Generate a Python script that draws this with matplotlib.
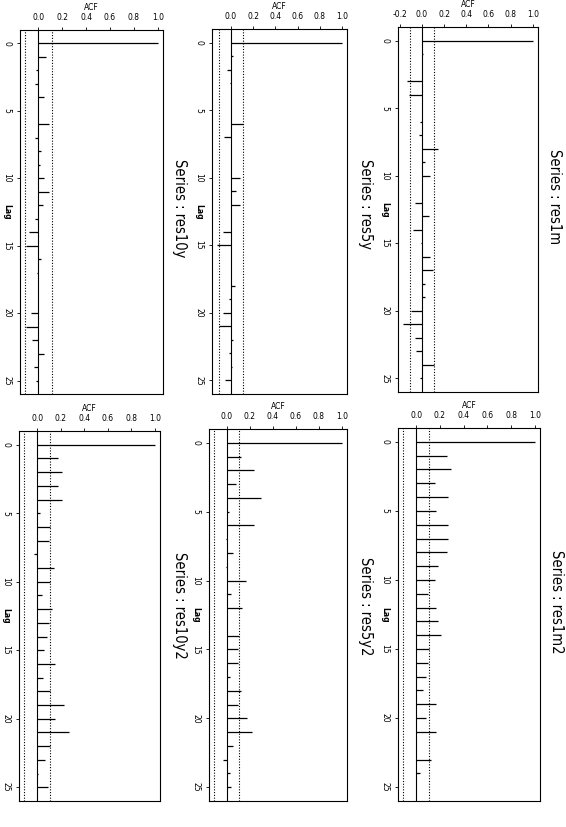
import numpy as np
import matplotlib
matplotlib.use("Agg")
import matplotlib.pyplot as plt

lags = list(range(26))

res10y = [1.0, 0.06, -0.02, -0.03, 0.05, 0.0, 0.09, -0.03, 0.02, 0.01,
          0.045, 0.09, 0.04, -0.03, -0.08, -0.10, 0.02, -0.01, 0.0, 0.0,
          -0.06, -0.10, -0.05, 0.05, -0.04, -0.02]
res5y = [1.0, 0.02, -0.035, -0.01, 0.0, 0.0, 0.11, -0.065, 0.0, 0.0,
         0.085, 0.05, 0.085, 0.0, -0.075, -0.125, 0.0, 0.0, 0.04, -0.02,
         -0.07, -0.11, 0.015, -0.02, 0.01, -0.05]
res1m = [1.0, 0.01, 0.0, -0.135, -0.115, 0.0, -0.015, -0.03, 0.14, 0.03,
         0.07, 0.0, -0.065, 0.065, -0.085, -0.01, 0.07, 0.10, 0.03, 0.03,
         -0.10, -0.17, -0.065, -0.055, 0.11, -0.02]
res10y2 = [1.0, 0.175, 0.21, 0.18, 0.21, 0.02, 0.105, 0.10, -0.03, 0.14,
           0.11, 0.04, 0.13, 0.10, 0.085, 0.055, 0.15, 0.05, 0.11, 0.225,
           0.15, 0.27, 0.11, 0.07, 0.005, 0.09]
res5y2 = [1.0, 0.125, 0.235, 0.08, 0.30, 0.02, 0.24, -0.01, 0.05, -0.01,
          0.17, 0.035, 0.13, 0.0, 0.11, 0.095, 0.10, 0.03, 0.12, 0.10,
          0.18, 0.22, 0.05, -0.03, 0.03, 0.04]
res1m2 = [1.0, 0.26, 0.29, 0.16, 0.27, 0.17, 0.27, 0.27, 0.26, 0.18,
          0.16, 0.10, 0.165, 0.18, 0.21, 0.105, 0.10, 0.085, 0.055, 0.165,
          0.085, 0.165, 0.0, 0.12, 0.035, 0.0]

names = ["res10y", "res5y", "res1m", "res10y2", "res5y2", "res1m2"]
series = [res10y, res5y, res1m, res10y2, res5y2, res1m2]
conf = [0.11, 0.11, 0.11, 0.11, 0.11, 0.11]
lag_ticks = [0, 5, 10, 15, 20, 25]
acf_ticks = [-0.2, 0.0, 0.2, 0.4, 0.6, 0.8, 1.0]

W, H = 566, 827
# panel frames in pixels: left, top, right, bottom
boxes = [(20, 30, 163, 394), (212, 29, 347, 394), (398, 27, 538, 392),
         (19, 431, 160, 801), (209, 429, 347, 801), (398, 428, 540, 801)]
# centre of the rotated series titles
title_pos = [(180, 208), (365, 204), (555, 197),
             (180, 605), (365, 606), (556, 602)]

plt.rcParams["font.family"] = ["DejaVu Sans"]
fig = plt.figure(figsize=(W / 100, H / 100), dpi=100)

for name, acf, c, box, tp in zip(names, series, conf, boxes, title_pos):
    l, t, r, b = box
    ax = fig.add_axes([l / W, 1 - b / H, (r - l) / W, (b - t) / H])

    lo = min(min(acf), -c)
    hi = max(max(acf), c)
    pad = 0.04 * (hi - lo)
    ax.set_xlim(lo - pad, hi + pad)
    ax.set_ylim(26, -1)

    ax.hlines(lags, 0, acf, color="black", lw=0.9)
    ax.axvline(0, color="black", lw=0.8)
    for v in (-c, c):
        ax.axvline(v, color="black", lw=0.8, ls=(0, (1, 1.5)))

    ticks = [v for v in acf_ticks if lo - pad <= v <= hi + pad]
    ax.xaxis.tick_top()
    ax.set_xticks(ticks)
    ax.set_xticklabels([f"{v:.1f}" for v in ticks])
    ax.xaxis.set_label_position("top")
    ax.set_xlabel("ACF", fontsize=5.5, labelpad=2)

    ax.set_yticks(lag_ticks)
    ax.set_yticklabels([str(v) for v in lag_ticks], rotation=-90, va="center")
    ax.tick_params(labelsize=5.5, length=2, width=0.6, pad=4)
    ax.annotate("Lag", xy=(0, 12.5), xycoords=("axes fraction", "data"),
                xytext=(-9.5, 0), textcoords="offset points", rotation=-90,
                ha="center", va="center", fontsize=5.5, fontweight="bold")

    for sp in ax.spines.values():
        sp.set_linewidth(0.8)

    fig.text(tp[0] / W, 1 - tp[1] / H, "Series : " + name, rotation=-90,
             ha="center", va="center", fontsize=10.5, fontstretch="condensed")

fig.savefig("out.png", dpi=100)
